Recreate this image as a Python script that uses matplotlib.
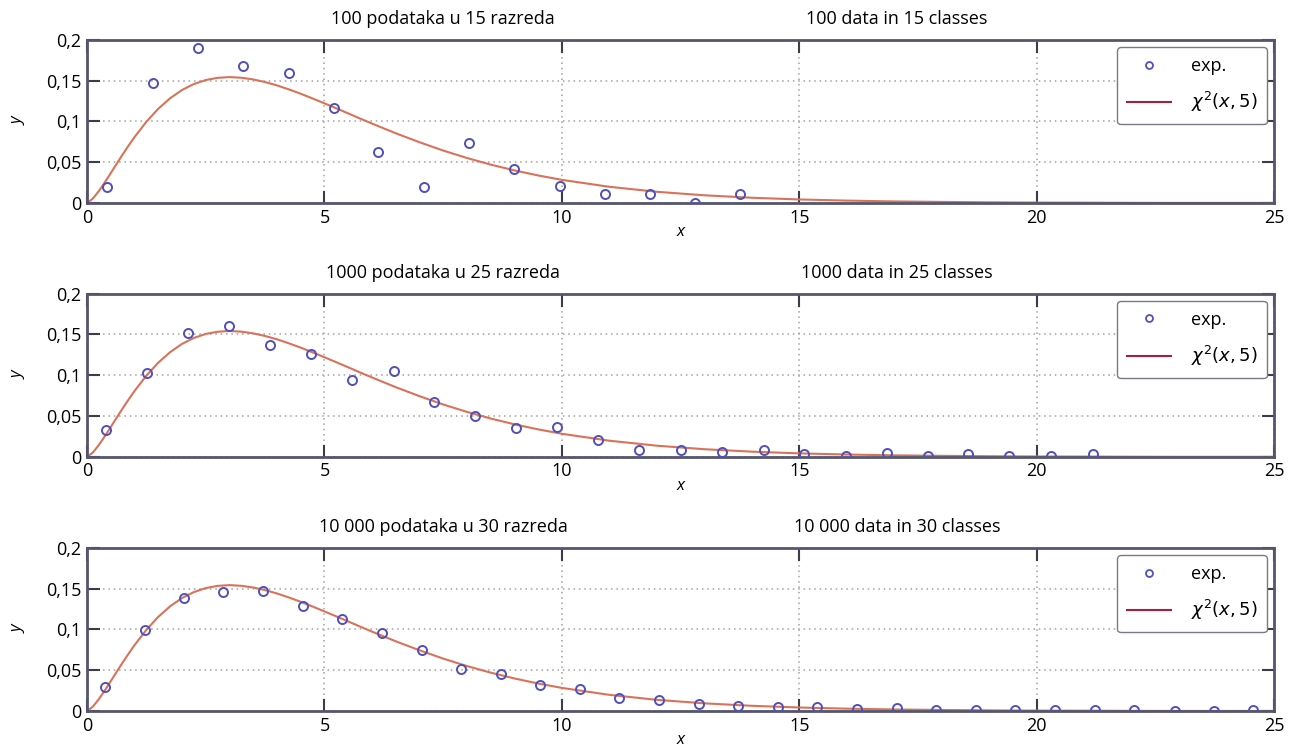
import numpy as np
from matplotlib import pyplot as plt
from matplotlib.lines import Line2D

plt.rcParams['font.family'] = ['Liberation Sans Narrow', 'Open Sans', 'DejaVu Sans']

# theoretical chi^2(x, 5) curve
curve_x = [0, 0.125, 0.25, 0.375, 0.5, 0.625, 0.75, 0.875, 1, 1.25, 1.5, 1.75,
           2, 2.25, 2.5, 2.75, 3, 3.25, 3.5, 3.75, 4, 4.25, 4.5, 4.75, 5, 5.25,
           5.5, 5.75, 6, 6.5, 7, 7.5, 8, 8.5, 9, 9.5, 10, 11, 12, 13, 14, 15,
           16, 17, 18, 19, 20, 21, 22, 23, 24, 25]
curve_y = [0, 0.0055, 0.0147, 0.0253, 0.0366, 0.0481, 0.0594, 0.0703, 0.0807,
           0.0995, 0.1154, 0.1283, 0.1384, 0.1457, 0.1506, 0.1533, 0.1542,
           0.1534, 0.1513, 0.1481, 0.1440, 0.1391, 0.1338, 0.1280, 0.1220,
           0.1159, 0.1097, 0.1034, 0.0973, 0.0854, 0.0744, 0.0642, 0.0551,
           0.0470, 0.0399, 0.0337, 0.0283, 0.0198, 0.0137, 0.0094, 0.0064,
           0.0043, 0.0029, 0.0019, 0.0013, 0.0008, 0.0005, 0.0004, 0.0002,
           0.0001, 0.0001, 0.0001]

# 100 data in 15 classes
exp1_x = [0.42, 1.39, 2.34, 3.29, 4.25, 5.20, 6.13, 7.10, 8.05, 8.99, 9.96,
          10.90, 11.86, 12.80, 13.75]
exp1_y = [0.02, 0.147, 0.19, 0.168, 0.159, 0.116, 0.063, 0.02, 0.074, 0.042,
          0.021, 0.011, 0.011, 0.0, 0.011]

# 1000 data in 25 classes
exp2_x = [0.40, 1.26, 2.13, 2.99, 3.85, 4.72, 5.58, 6.47, 7.31, 8.17, 9.04,
          9.90, 10.76, 11.63, 12.51, 13.37, 14.26, 15.10, 15.99, 16.85, 17.71,
          18.56, 19.42, 20.30, 21.19]
exp2_y = [0.033, 0.103, 0.152, 0.160, 0.137, 0.126, 0.094, 0.105, 0.067,
          0.050, 0.035, 0.036, 0.021, 0.008, 0.008, 0.006, 0.008, 0.004,
          0.001, 0.005, 0.001, 0.003, 0.001, 0.001, 0.004]

# 10 000 data in 30 classes
exp3_x = [0.38, 1.22, 2.04, 2.86, 3.71, 4.55, 5.37, 6.21, 7.06, 7.88, 8.72,
          9.54, 10.38, 11.20, 12.05, 12.89, 13.71, 14.55, 15.37, 16.22, 17.06,
          17.88, 18.72, 19.55, 20.39, 21.23, 22.05, 22.90, 23.72, 24.56]
exp3_y = [0.030, 0.099, 0.139, 0.146, 0.147, 0.129, 0.113, 0.095, 0.075,
          0.052, 0.045, 0.032, 0.027, 0.016, 0.014, 0.009, 0.006, 0.005,
          0.005, 0.002, 0.004, 0.001, 0.001, 0.001, 0.001, 0.001, 0.001,
          0.0, 0.0, 0.001]

titles_hr = ['100 podataka u 15 razreda', '1000 podataka u 25 razreda',
             '10 000 podataka u 30 razreda']
titles_en = ['100 data in 15 classes', '1000 data in 25 classes',
             '10 000 data in 30 classes']

x_ticks = [0, 5, 10, 15, 20, 25]
y_ticks = [0, 0.05, 0.1, 0.15, 0.2]
y_tick_labels = ['0', '0,05', '0,1', '0,15', '0,2']

panels = [(exp1_x, exp1_y), (exp2_x, exp2_y), (exp3_x, exp3_y)]

fig = plt.figure(figsize=(12.99, 7.49), dpi=100)
# axes rectangles [left, bottom, width, height] in figure fraction
rects = [[0.067, 0.729, 0.914, 0.218],
         [0.067, 0.390, 0.914, 0.218],
         [0.067, 0.0507, 0.914, 0.218]]

frame_col = '#55566e'
curve_col = '#d8735a'
legend_line_col = '#a3213f'
marker_col = '#5050bb'

for i, (ex, ey) in enumerate(panels):
    ax = fig.add_axes(rects[i])
    ax.plot(curve_x, curve_y, color=curve_col, lw=1.5, zorder=2)
    ax.plot(ex, ey, 'o', mfc='none', mec=marker_col, mew=1.4, ms=6.5, zorder=3)

    ax.set_xlim(0, 25)
    ax.set_ylim(0, 0.2)
    ax.set_xticks(x_ticks)
    ax.set_yticks(y_ticks)
    ax.set_yticklabels(y_tick_labels)
    ax.tick_params(direction='in', length=9, width=1.5, color='#3c3c4a',
                   top=True, right=True, labelsize=13, pad=4)
    ax.grid(True, linestyle=(0, (1, 2.5)), color='#a0a0a0', lw=1.1)
    for s in ax.spines.values():
        s.set_color(frame_col)
        s.set_linewidth(2)

    ax.set_xlabel('x', style='italic', fontsize=12, labelpad=-2)
    ax.set_ylabel('y', style='italic', fontsize=12, labelpad=14)

    ax.text(0.30, 1.07, titles_hr[i], transform=ax.transAxes, ha='center',
            va='bottom', fontsize=13)
    ax.text(0.682, 1.07, titles_en[i], transform=ax.transAxes, ha='center',
            va='bottom', fontsize=13)

    handles = [Line2D([], [], ls='none', marker='o', mfc='none', mec=marker_col,
                      mew=1.3, ms=5),
               Line2D([], [], color=legend_line_col, lw=1.5)]
    leg = ax.legend(handles, ['exp.', r'$\chi^2(x, 5)$'], loc='upper right',
                    fontsize=13, handlelength=2.4, handletextpad=1.1,
                    borderaxespad=0.4, borderpad=0.55, labelspacing=0.85,
                    fancybox=True, framealpha=1)
    leg.get_frame().set_edgecolor('#7a7a86')
    leg.get_frame().set_linewidth(1.0)

fig.savefig('out.png', dpi=100)
